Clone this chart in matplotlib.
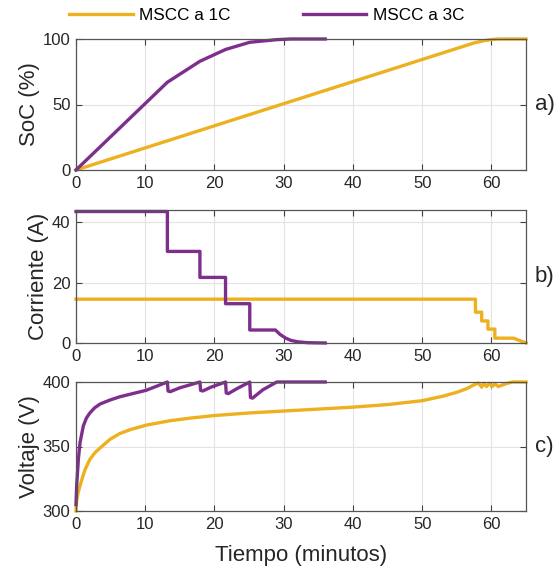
import numpy as np
import matplotlib
matplotlib.use("Agg")
import matplotlib.pyplot as plt

plt.rcParams['font.family'] = ['Liberation Sans', 'DejaVu Sans']

C1 = '#EDB120'
C3 = '#7E2F8E'

# SoC data
t_soc1 = [0, 57.5, 59, 60, 61, 65]
soc1 = [0, 97, 98.8, 99.6, 100, 100]
t_soc3 = [0, 13.2, 17.9, 21.6, 25.1, 29, 31, 36]
soc3 = [0, 67, 83, 92, 97.5, 99.5, 100, 100]

# Current data (step-like)
t_i1 = [0, 57.7, 57.7, 58.6, 58.6, 59.5, 59.5, 60.5, 60.5, 63.2, 65]
i1 = [14.5, 14.5, 10.2, 10.2, 7.3, 7.3, 4.6, 4.6, 1.6, 1.6, 0]
t_i3 = [0, 13.2, 13.2, 17.9, 17.9, 21.6, 21.6, 25.1, 25.1, 28.8, 29.5, 30.3, 31, 32, 33.5, 36]
i3 = [43.5, 43.5, 30.3, 30.3, 21.7, 21.7, 13.0, 13.0, 4.3, 4.3, 2.8, 1.6, 0.9, 0.4, 0.1, 0]

# Voltage data
t_v1 = [0, 0.1, 0.3, 0.6, 1.0, 1.3, 2.0, 2.7, 3.5, 4.9, 6.3, 7.8, 10.1, 13.6, 16.5, 20, 25, 30,
        35, 40, 45, 50, 53, 55, 56.5, 57.4, 58.1, 58.6, 58.9, 59.3, 59.7, 60.1, 60.5,
        61.0, 62, 63, 65]
v1 = [300, 308, 314, 320, 327, 332, 340, 345, 349, 355.5, 360, 363, 366.5, 370, 372, 374,
      376, 377.5, 379, 380.5, 382.5, 385.5, 389, 392, 395, 397.6, 399.2, 396, 399, 396.5,
      399, 396.5, 398.5, 396.5, 398.5, 400, 400]
t_v3 = [0, 0.1, 0.34, 0.58, 1.06, 1.5, 2, 2.7, 3.5, 4.9, 6.3, 7.8, 10.1, 13.2,
        13.3, 13.6, 15, 17.9, 18.0, 18.3, 19.5, 21.6, 21.7, 22.0, 23.3, 25.1,
        25.2, 25.5, 27, 29, 36]
v3 = [305, 320, 340, 353, 366, 372, 376, 380, 383, 386, 388.5, 390.5, 393.5, 400,
      393, 392.5, 395.5, 400, 393.5, 393, 396, 400, 391.5, 391, 395, 400,
      388, 387.5, 394, 400, 400]

fig = plt.figure(figsize=(5.58, 5.81), dpi=100)
L, R = 76/558, 526/558
def pos(top, bot):
    return [L, 1 - bot/581, R - L, (bot - top)/581]

ax1 = fig.add_axes(pos(39, 170))
ax2 = fig.add_axes(pos(210, 343))
ax3 = fig.add_axes(pos(382, 511))

lw = 2.4
l1, = ax1.plot(t_soc1, soc1, color=C1, lw=lw, label='MSCC a 1C')
l3, = ax1.plot(t_soc3, soc3, color=C3, lw=lw, label='MSCC a 3C')
ax2.plot(t_i1, i1, color=C1, lw=lw)
ax2.plot(t_i3, i3, color=C3, lw=lw)
ax3.plot(t_v1, v1, color=C1, lw=lw)
ax3.plot(t_v3, v3, color=C3, lw=lw)

ax1.set_ylim(0, 100); ax1.set_yticks([0, 50, 100])
ax2.set_ylim(0, 44); ax2.set_yticks([0, 20, 40])
ax3.set_ylim(300, 400); ax3.set_yticks([300, 350, 400])

labels = ['SoC (%)', 'Corriente (A)', 'Voltaje (V)']
panels = ['a)', 'b)', 'c)']
for ax, lab, p in zip([ax1, ax2, ax3], labels, panels):
    ax.set_xlim(0, 65)
    ax.set_xticks(range(0, 61, 10))
    ax.grid(True, color='#e3e3e3', lw=0.8)
    ax.set_axisbelow(True)
    ax.tick_params(direction='in', labelsize=12, colors='#404040', labelcolor='#262626',
                   length=4, top=True, right=True, pad=4)
    for s in ax.spines.values():
        s.set_color('#555555')
        s.set_linewidth(0.9)
    ax.set_ylabel(lab, fontsize=16, color='#262626', labelpad=2)
    ax.text(1.02, 0.5, p, transform=ax.transAxes, fontsize=16, color='#262626',
            va='center', ha='left')
    for ln in ax.get_lines():
        ln.set_clip_on(False)

fig.align_ylabels([ax1, ax2, ax3])
ax3.set_xlabel('Tiempo (minutos)', fontsize=16, color='#262626', labelpad=10)

fig.legend(handles=[l1, l3], loc='center', bbox_to_anchor=(0.478, 1 - 15/581), ncol=2,
           frameon=False, fontsize=12.3, handlelength=3.7, columnspacing=4.2,
           handletextpad=0.4)

fig.savefig('out.png', dpi=100)
